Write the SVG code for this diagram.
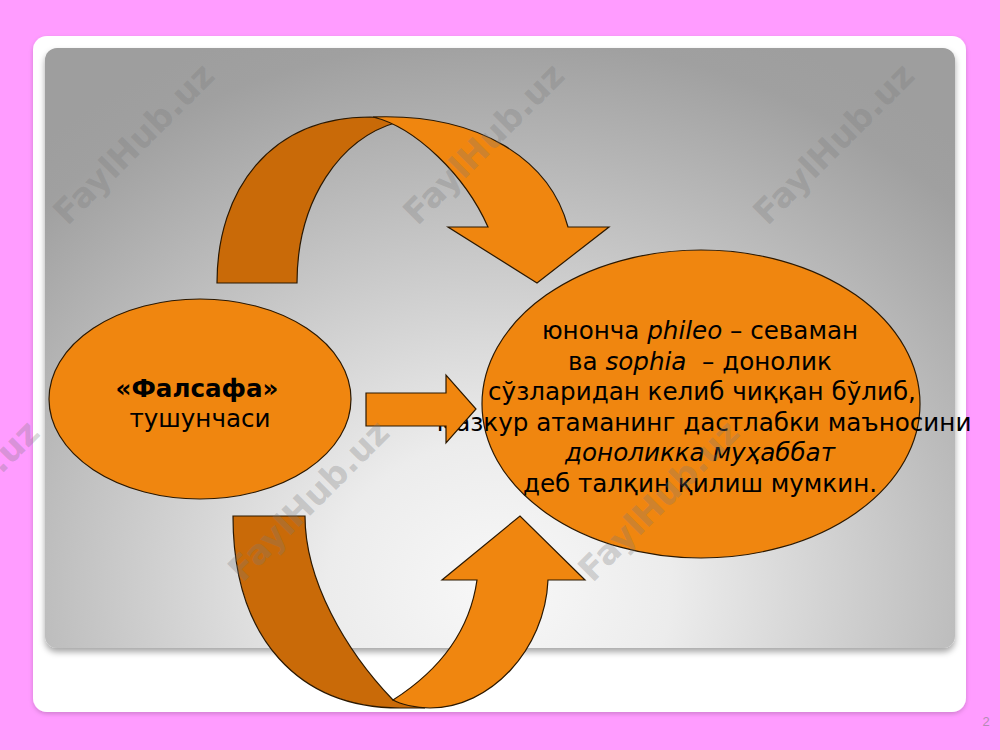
<svg xmlns="http://www.w3.org/2000/svg" width="1000" height="750" viewBox="0 0 1000 750">
  <defs>
    <style>
      .shape { stroke: #2b1800; stroke-width: 1.2; stroke-linejoin: miter; }
      .light { fill: #f0860f; }
      .dark { fill: #c96a08; }
      .txt { font-family: "DejaVu Sans", Verdana, sans-serif; font-size: 24.6px; fill: #000; text-anchor: middle; }
      .it { font-style: italic; }
      .wm { font-family: "DejaVu Sans", Verdana, sans-serif; font-weight: bold; font-size: 34px; fill: #7a7a7a; fill-opacity: 0.3; text-anchor: middle; }
    </style>
    <radialGradient id="panelGrad" gradientUnits="userSpaceOnUse" cx="500" cy="590" r="600" gradientTransform="translate(500 590) scale(1.15 1) translate(-500 -590)">
      <stop offset="0" stop-color="#f8f8f8"/>
      <stop offset="0.25" stop-color="#ececec"/>
      <stop offset="0.92" stop-color="#a0a0a0"/>
      <stop offset="1" stop-color="#9e9e9e"/>
    </radialGradient>
    <filter id="cardShadow" x="-5%" y="-5%" width="110%" height="112%">
      <feDropShadow dx="0" dy="2" stdDeviation="2" flood-color="#000" flood-opacity="0.18"/>
    </filter>
    <filter id="panelShadow" x="-5%" y="-5%" width="110%" height="112%">
      <feDropShadow dx="0" dy="4" stdDeviation="3" flood-color="#000" flood-opacity="0.35"/>
    </filter>
  </defs>

  <rect x="0" y="0" width="1000" height="750" fill="#ff9cff"/>
  <rect x="33" y="36" width="933" height="676" rx="14" fill="#ffffff" filter="url(#cardShadow)"/>
  <rect x="45" y="48" width="910" height="600" rx="12" fill="url(#panelGrad)" filter="url(#panelShadow)"/>

  <g id="node-falsafa">
    <ellipse class="shape light" cx="200" cy="399" rx="151" ry="100"/>
    <text class="txt" x="197" y="397" font-weight="bold">«Фалсафа»</text>
    <text class="txt" x="200" y="427">тушунчаси</text>
  </g>

  <g id="node-definition">
    <ellipse class="shape light" cx="701" cy="404" rx="219" ry="154"/>
    <text class="txt" x="700" y="339">юнонча <tspan class="it">phileo</tspan> – севаман</text>
    <text class="txt" x="700" y="369.5" style="white-space:pre">ва <tspan class="it">sophia</tspan>  – донолик</text>
    <text class="txt" x="702" y="400">сўзларидан келиб чиққан бўлиб,</text>
    <text class="txt" x="704" y="430.5">мазкур атаманинг дастлабки маъносини</text>
    <text class="txt it" x="700" y="461">доноликка муҳаббат</text>
    <text class="txt" x="700" y="491.5">деб талқин қилиш мумкин.</text>
  </g>

  <g id="connectors">
    <g id="arrow-top">
      <path class="shape dark" d="M 217,283 C 217,190 270,117 370,117 L 402,118 L 398,122 C 340,138 297,200 297,283 Z"/>
      <path class="shape light" d="M 373,117 C 480,113 550,160 568,227 L 609,227 L 537,283 L 448,227 L 488,227 C 465,175 415,127 373,117 Z"/>
    </g>
    <g id="arrow-bottom">
      <path class="shape dark" d="M 233,516 L 305,516 C 305,580 345,650 393,700 L 425,708 L 400,708 C 300,708 233,640 233,516 Z"/>
      <path class="shape light" d="M 393,700 C 440,670 470,630 477,580 L 442,580 L 520,516 L 585,580 L 548,580 C 545,650 490,708 430,708 C 415,708 400,704 393,700 Z"/>
    </g>
    <path id="arrow-middle" class="shape light" d="M 366,393 L 446,393 L 446,375 L 476,409 L 446,443 L 446,426 L 366,426 Z"/>
  </g>

  <g id="watermarks">
    <text class="wm" transform="translate(142,152) rotate(-45)">FaylHub.uz</text>
    <text class="wm" transform="translate(492,152) rotate(-45)">FaylHub.uz</text>
    <text class="wm" transform="translate(842,152) rotate(-45)">FaylHub.uz</text>
    <text class="wm" transform="translate(-33,509) rotate(-45)">FaylHub.uz</text>
    <text class="wm" transform="translate(317,509) rotate(-45)">FaylHub.uz</text>
    <text class="wm" transform="translate(667,509) rotate(-45)">FaylHub.uz</text>
  </g>

  <text x="986" y="726" font-family="Liberation Sans, Arial, sans-serif" font-size="13" fill="#b48cb4" text-anchor="middle">2</text>
</svg>
